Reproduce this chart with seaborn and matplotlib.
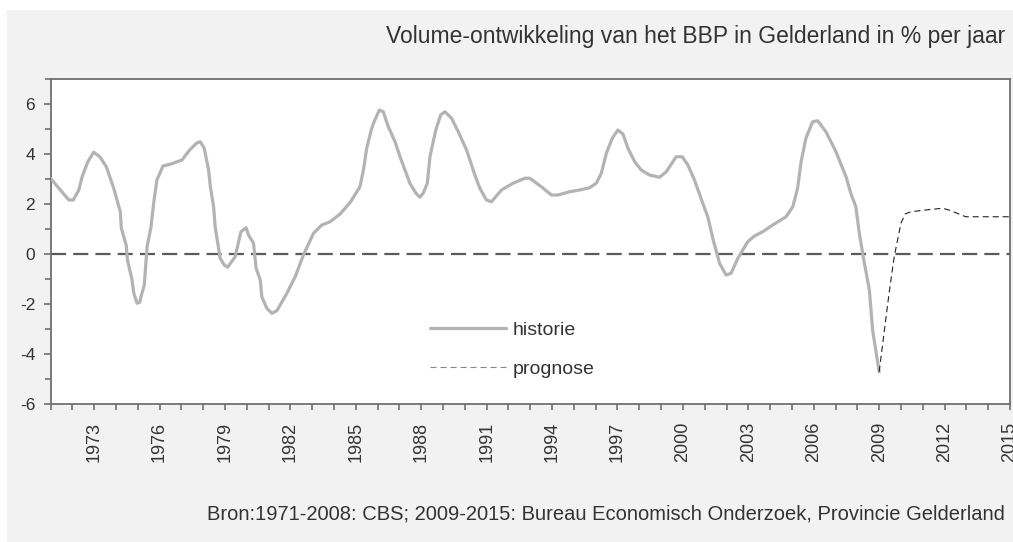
import numpy as np
import pandas as pd
import matplotlib
matplotlib.use('Agg')
import matplotlib.pyplot as plt
from matplotlib.patches import Rectangle
from matplotlib.ticker import MultipleLocator
import seaborn as sns

# historical growth (CBS)
hist_years = [1971.00, 1971.84, 1972.04, 1972.30, 1972.45, 1972.71, 1972.98, 1973.26, 1973.56, 1973.90,
              1974.20, 1974.25, 1974.47, 1974.53, 1974.74, 1974.82, 1974.97, 1975.09, 1975.15, 1975.30,
              1975.43, 1975.61, 1975.73, 1975.88, 1976.16, 1976.49, 1977.03, 1977.38, 1977.72, 1977.87,
              1978.05, 1978.25, 1978.33, 1978.48, 1978.55, 1978.78, 1978.97, 1979.12, 1979.47, 1979.73,
              1979.97, 1980.08, 1980.31, 1980.43, 1980.62, 1980.69, 1980.92, 1981.15, 1981.38, 1981.84,
              1982.22, 1982.60, 1983.06, 1983.44, 1983.82, 1984.28, 1984.74, 1985.19, 1985.35, 1985.50,
              1985.73, 1985.84, 1986.08, 1986.26, 1986.49, 1986.80, 1987.03, 1987.48, 1987.76, 1987.94,
              1988.09, 1988.28, 1988.40, 1988.67, 1988.89, 1989.09, 1989.39, 1989.70, 1990.08, 1990.23,
              1990.46, 1990.69, 1990.99, 1991.22, 1991.68, 1992.21, 1992.75, 1992.98, 1993.51, 1993.97,
              1994.27, 1994.81, 1995.27, 1995.72, 1996.03, 1996.26, 1996.49, 1996.76, 1997.02, 1997.25,
              1997.48, 1997.79, 1998.09, 1998.47, 1998.93, 1999.24, 1999.69, 1999.97, 2000.23, 2000.53,
              2000.91, 2001.14, 2001.37, 2001.68, 2001.98, 2002.21, 2002.52, 2002.97, 2003.28, 2003.66,
              2004.12, 2004.73, 2005.04, 2005.26, 2005.42, 2005.64, 2005.95, 2006.18, 2006.56, 2007.02,
              2007.48, 2007.70, 2007.93, 2008.09, 2008.27, 2008.55, 2008.70, 2009.00]
hist_values = [3.03, 2.16, 2.16, 2.56, 3.09, 3.69, 4.07, 3.89, 3.49, 2.63,
               1.69, 1.03, 0.36, -0.24, -1.04, -1.57, -1.97, -1.93, -1.71, -1.24,
               0.29, 1.09, 2.03, 2.96, 3.52, 3.59, 3.76, 4.16, 4.45, 4.49,
               4.23, 3.36, 2.69, 1.89, 1.09, -0.17, -0.44, -0.53, -0.11, 0.89,
               1.05, 0.76, 0.43, -0.57, -1.04, -1.71, -2.17, -2.37, -2.27, -1.57,
               -0.91, -0.04, 0.83, 1.16, 1.29, 1.60, 2.06, 2.69, 3.36, 4.23,
               5.03, 5.29, 5.76, 5.69, 5.09, 4.49, 3.89, 2.83, 2.43, 2.27,
               2.43, 2.83, 3.89, 4.96, 5.56, 5.69, 5.43, 4.89, 4.16, 3.76,
               3.16, 2.63, 2.16, 2.09, 2.56, 2.83, 3.03, 3.03, 2.69, 2.36,
               2.36, 2.49, 2.56, 2.65, 2.83, 3.23, 4.03, 4.63, 4.96, 4.80,
               4.23, 3.69, 3.36, 3.16, 3.07, 3.29, 3.89, 3.89, 3.56, 2.96,
               2.03, 1.49, 0.63, -0.37, -0.84, -0.77, -0.17, 0.49, 0.72, 0.89,
               1.16, 1.49, 1.89, 2.63, 3.69, 4.63, 5.29, 5.33, 4.89, 4.09,
               3.09, 2.43, 1.89, 0.83, -0.11, -1.44, -3.04, -4.71]

# forecast (Bureau Economisch Onderzoek)
prog_years = [2009.00, 2009.45, 2009.69, 2010.00, 2010.19, 2010.45, 2011.14, 2011.90, 2012.20, 2012.97, 2014.00, 2015.00]
prog_values = [-4.71, -1.60, -0.11, 1.23, 1.60, 1.69, 1.76, 1.83, 1.76, 1.49, 1.49, 1.49]

year_labels = list(range(1973, 2016, 3))
y_ticks = list(range(-6, 7, 2))

title = 'Volume-ontwikkeling van het BBP in Gelderland in % per jaar'
source = 'Bron:1971-2008: CBS; 2009-2015: Bureau Economisch Onderzoek, Provincie Gelderland'

sns.set_style('white')
plt.rcParams['font.family'] = ['Liberation Sans', 'DejaVu Sans']

fig = plt.figure(figsize=(10.13, 5.42), dpi=100, facecolor='white')
# light grey panel behind everything
fig.patches.append(Rectangle((7 / 1013, 0), 1, (542 - 10) / 542, transform=fig.transFigure,
                             facecolor='#f2f2f2', edgecolor='none', zorder=-10))

ax = fig.add_axes([50.5 / 1013, (542 - 404) / 542, (1010 - 50.5) / 1013, (404 - 79) / 542])
ax.set_facecolor('white')

hist_df = pd.DataFrame({'jaar': hist_years, 'groei': hist_values})
prog_df = pd.DataFrame({'jaar': prog_years, 'groei': prog_values})

ax.axhline(0, color='#5a5a5a', lw=1.6, dashes=(6.8, 3.2), zorder=1)
sns.lineplot(data=hist_df, x='jaar', y='groei', ax=ax, sort=False, color='#b3b3b3',
             lw=2.3, label='historie', zorder=3)
sns.lineplot(data=prog_df, x='jaar', y='groei', ax=ax, sort=False, color='#222222',
             lw=0.8, dashes=False, label='prognose', zorder=3)
ax.lines[-1].set_dashes((5.5, 3.5))

ax.set_xlim(1971, 2015)
ax.set_ylim(-6, 7)
ax.set_xlabel('')
ax.set_ylabel('')

ax.set_xticks(year_labels)
ax.set_xticklabels([str(y) for y in year_labels], rotation=90, fontsize=13, color='#333333')
ax.xaxis.set_minor_locator(MultipleLocator(1))
ax.set_yticks(y_ticks)
ax.set_yticklabels([str(v) for v in y_ticks], fontsize=12.5, color='#333333')
ax.yaxis.set_minor_locator(MultipleLocator(1))
ax.tick_params(axis='both', which='both', direction='out', color='#707070', width=1.2)
ax.tick_params(axis='x', which='major', length=4, pad=9)
ax.tick_params(axis='x', which='minor', length=4)
ax.tick_params(axis='y', which='major', length=5, pad=6)
ax.tick_params(axis='y', which='minor', length=4)
ax.tick_params(left=True, bottom=True, which='both')

for s in ax.spines.values():
    s.set_visible(True)
    s.set_color('#707070')
    s.set_linewidth(1.3)

leg = ax.legend(loc='upper left', bbox_to_anchor=((430 - 50.5) / 959.5, (404 - 321) / 325),
                frameon=False, fontsize=14, handlelength=3.9, handletextpad=0.36,
                labelspacing=1.1, borderpad=0, borderaxespad=0)
for t in leg.get_texts():
    t.set_color('#333333')
leg.get_lines()[1].set_color('#888888')

fig.text(1005 / 1013, 1 - 43 / 542, title, ha='right', va='baseline', fontsize=16.5, color='#333333')
fig.text(1005 / 1013, 1 - 520 / 542, source, ha='right', va='baseline', fontsize=14.5, color='#333333')

fig.savefig('out.png', dpi=100, facecolor=fig.get_facecolor())
